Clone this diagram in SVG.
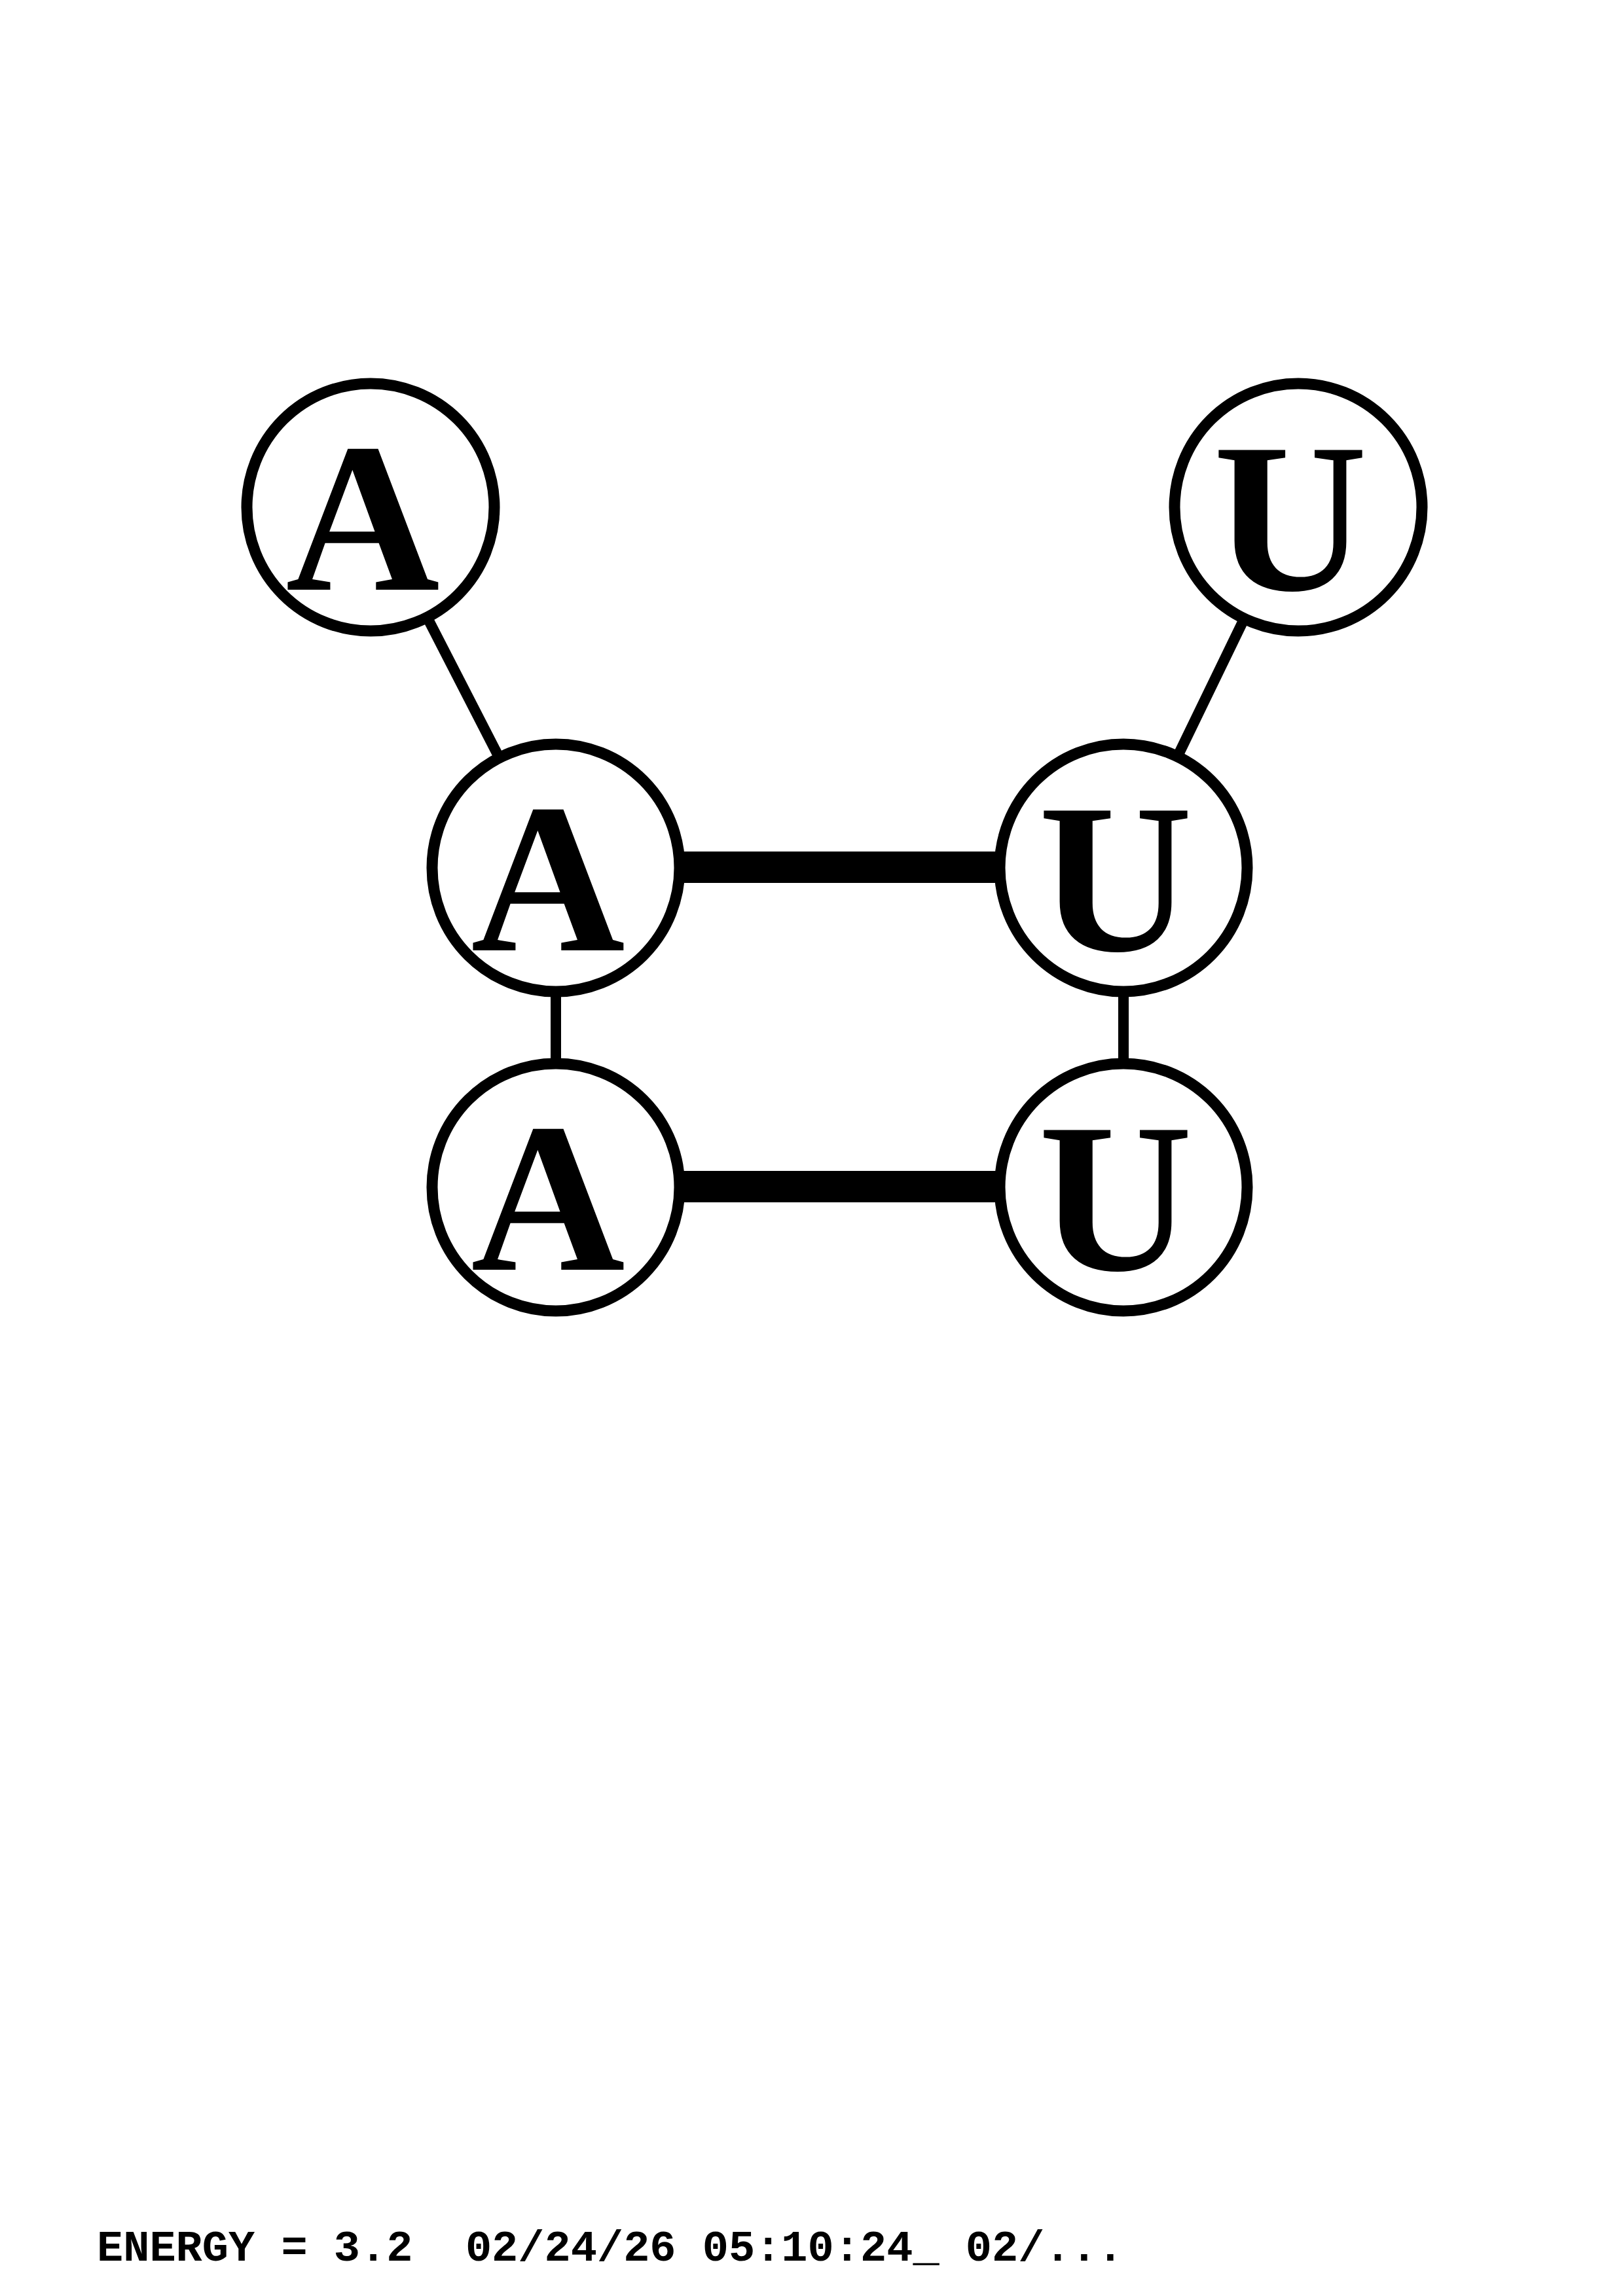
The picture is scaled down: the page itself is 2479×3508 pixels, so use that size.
<svg xmlns="http://www.w3.org/2000/svg" width="2479" height="3508" viewBox="0 0 2479 3508">
<style>
.bg{fill:#ffffff}
.thin{stroke:#000;stroke-width:16;fill:none}
.pair{stroke:#000;stroke-width:48;fill:none}
.node circle{fill:#ffffff;stroke:#000;stroke-width:17}
.node text{font-family:"Liberation Serif","Times New Roman",serif;font-weight:bold;font-size:326px;text-anchor:middle;fill:#000}
.footer{font-family:"Liberation Mono","Courier New",monospace;font-weight:bold;font-size:67px;fill:#000}
</style>
<rect class="bg" x="0" y="0" width="2479" height="3508"/>
<g id="connectors">
<line class="thin" x1="566" y1="775" x2="849" y2="1326"/>
<line class="thin" x1="1983" y1="775" x2="1716" y2="1326"/>
<line class="thin" x1="849" y1="1326" x2="849" y2="1814"/>
<line class="thin" x1="1716" y1="1326" x2="1716" y2="1814"/>
<line class="pair" x1="849" y1="1325" x2="1716" y2="1325"/>
<line class="pair" x1="849" y1="1813" x2="1716" y2="1813"/>
</g>
<g id="n1" class="node"><circle cx="566" cy="775" r="189"/><text x="554" y="901">A</text></g>
<g id="n2" class="node"><circle cx="849" cy="1326" r="189"/><text x="837" y="1452">A</text></g>
<g id="n3" class="node"><circle cx="849" cy="1814" r="189"/><text x="837" y="1940">A</text></g>
<g id="n4" class="node"><circle cx="1716" cy="1814" r="189"/><text x="1704" y="1940">U</text></g>
<g id="n5" class="node"><circle cx="1716" cy="1326" r="189"/><text x="1704" y="1452">U</text></g>
<g id="n6" class="node"><circle cx="1983" cy="775" r="189"/><text x="1971" y="901">U</text></g>
<text class="footer" x="148" y="3454" xml:space="preserve">ENERGY = 3.2  02/24/26 05:10:24_ 02/...</text>
</svg>
